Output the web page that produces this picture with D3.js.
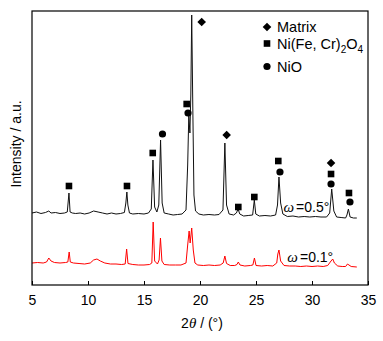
<!DOCTYPE html>
<html>
<head>
<meta charset="utf-8">
<script src="https://cdn.jsdelivr.net/npm/d3@7"></script>
<style>
  html, body { margin: 0; padding: 0; background: #fff; }
  svg text { font-family: Arial, "Liberation Sans", sans-serif; }
</style>
</head>
<body>
<svg id="chart" width="383" height="341"></svg>
<script>
// ---- data (2θ in degrees, intensity in arbitrary units) ----
const xTicks = [5, 10, 15, 20, 25, 30, 35];

const patternHigh = [ // ω = 0.5°
  [5.0,72],[5.4,73],[5.8,71.5],[6.2,72.5],[6.5,74],[6.7,72],[7.1,72.5],[7.5,71.5],[7.9,72],[8.15,73],
  [8.3,92],[8.4,73],[8.6,72],[8.9,71.5],[9.3,72],[9.7,71],[10.1,72],[10.5,74],[10.9,73],[11.3,72],
  [11.7,71],[12.1,72],[12.5,71],[12.9,71.5],[13.25,72.5],[13.38,82],[13.47,93],[13.56,80],[13.7,72],[14.0,71],
  [14.5,71.5],[15.0,71],[15.4,72],[15.65,76],[15.8,125],[15.95,78],[16.15,73],[16.32,80],[16.48,145],[16.62,82],
  [16.8,72],[17.2,71],[17.6,70],[18.0,70.5],[18.4,71],[18.75,75],[18.9,120],[19.0,170],[19.1,152],[19.18,190],
  [19.26,270],[19.36,175],[19.46,90],[19.6,74],[19.9,71],[20.3,70],[20.8,70.5],[21.3,70],[21.7,70.5],[22.05,75],
  [22.22,142],[22.37,80],[22.6,71],[23.0,70],[23.25,72],[23.4,76],[23.55,71],[23.9,69],[24.3,69.5],[24.7,70],
  [24.85,85],[24.98,71],[25.3,69],[25.8,69.5],[26.3,69],[26.75,70],[26.92,80],[27.05,108],[27.2,82],[27.4,71],
  [27.8,68.5],[28.3,69],[28.8,68],[29.3,68.5],[29.8,68],[30.3,68.5],[30.8,68],[31.3,68],[31.58,72],[31.76,96],
  [31.95,74],[32.2,68],[32.6,67.5],[33.0,67],[33.12,70],[33.25,76],[33.4,68],[33.7,67],[34.0,67]
];

const patternLow = [ // ω = 0.1°
  [5.0,22],[5.5,22.5],[6.0,22],[6.3,23],[6.5,27],[6.7,24],[7.0,22.5],[7.5,22],[8.0,22.5],[8.2,23],
  [8.32,33],[8.42,23],[8.7,22],[9.2,21.5],[9.7,21],[10.2,22],[10.5,25],[10.8,26],[11.1,24],[11.5,22],
  [12.0,21],[12.5,21],[13.0,20.5],[13.32,21],[13.45,36],[13.57,21.5],[14.0,20.5],[14.5,20],[15.0,20],[15.5,20.5],
  [15.7,22],[15.82,63],[15.95,24],[16.2,21],[16.35,25],[16.47,47],[16.6,24],[16.8,20.5],[17.3,20],[17.8,20],
  [18.3,20],[18.75,22],[18.9,40],[19.03,54],[19.12,42],[19.26,57],[19.4,35],[19.55,22],[19.8,20],[20.3,19.5],
  [20.8,20],[21.3,19.5],[21.8,20],[22.07,22],[22.22,29],[22.37,21.5],[22.7,19.5],[23.1,19.5],[23.3,20.5],[23.42,23],
  [23.57,20],[24.0,19],[24.5,19.5],[24.72,20],[24.86,27],[25.0,19.5],[25.5,19],[26.0,19.5],[26.5,19],[26.85,22],
  [26.95,31],[27.05,35],[27.2,24],[27.5,19.5],[28.0,19],[28.5,19],[29.0,18.5],[29.5,19],[30.0,18.5],[30.5,19],
  [31.0,18.5],[31.4,19.5],[31.7,24],[31.85,26],[32.0,22],[32.3,19],[32.7,18.5],[33.0,18.5],[33.17,21],[33.3,20],
  [33.5,18.5],[34.0,18]
];

// phase markers on the ω = 0.5° pattern: [type, 2θ, intensity]
const phaseMarks = [
  ["square", 8.30, 99], ["square", 13.48, 99], ["square", 15.78, 132], ["circle", 16.65, 151],
  ["square", 18.81, 181], ["circle", 18.93, 172], ["diamond", 20.15, 263], ["diamond", 22.38, 150],
  ["square", 23.42, 78], ["square", 24.85, 88], ["square", 26.99, 124], ["circle", 27.14, 113],
  ["diamond", 31.70, 122], ["square", 31.70, 111], ["circle", 31.70, 101],
  ["square", 33.30, 92], ["circle", 33.39, 83]
];

const legendItems = [
  { type: "diamond", label: "Matrix" },
  { type: "square", label: "Ni(Fe, Cr)", sub: ["2", "O", "4"] },
  { type: "circle", label: "NiO" }
];

const seriesLabels = [
  { text: "=0.5°", theta: 27.45, intensity: 73 },
  { text: "=0.1°", theta: 27.8, intensity: 23 }
];

// ---- layout ----
const svg = d3.select("#chart");
const L = 32, R = 368, T = 11, B = 285;

const x = d3.scaleLinear().domain([5, 35]).range([L, R]);
const y = d3.scaleLinear().domain([0, 274]).range([B, T]);

const line = d3.line().x(d => x(d[0])).y(d => y(d[1]));

svg.append("path").datum(patternLow)
  .attr("d", line).attr("fill", "none").attr("stroke", "#ff0000").attr("stroke-width", 1);
svg.append("path").datum(patternHigh)
  .attr("d", line).attr("fill", "none").attr("stroke", "#111").attr("stroke-width", 1);

// frame
svg.append("rect").attr("x", L).attr("y", T).attr("width", R - L).attr("height", B - T)
  .attr("fill", "none").attr("stroke", "#000").attr("stroke-width", 1.2);

// x axis with inward ticks
const xAxis = d3.axisBottom(x).tickValues(xTicks).tickSizeInner(-4).tickSizeOuter(0).tickPadding(10)
  .tickFormat(d3.format("d"));
const gx = svg.append("g").attr("transform", `translate(0,${B})`).call(xAxis);
gx.select(".domain").remove();
gx.selectAll("line").attr("stroke", "#000").attr("stroke-width", 1);
gx.selectAll("text").attr("font-size", 14).attr("fill", "#000")
  .attr("font-family", "Arial, 'Liberation Sans', sans-serif");

// marker drawing
function drawMarker(g, type, cx, cy) {
  if (type === "square") {
    g.append("rect").attr("x", cx - 3.3).attr("y", cy - 3.3).attr("width", 6.6).attr("height", 6.6).attr("fill", "#000");
  } else if (type === "circle") {
    g.append("circle").attr("cx", cx).attr("cy", cy).attr("r", 3.6).attr("fill", "#000");
  } else {
    const s = 4.3;
    g.append("path").attr("d", `M${cx},${cy - s}L${cx + s},${cy}L${cx},${cy + s}L${cx - s},${cy}Z`).attr("fill", "#000");
  }
}
const gm = svg.append("g");
phaseMarks.forEach(m => drawMarker(gm, m[0], x(m[1]), y(m[2])));

// legend
const lg = svg.append("g");
const legendY = [27, 43.5, 66.5];
legendItems.forEach((it, i) => {
  drawMarker(lg, it.type, 267, legendY[i]);
  const t = lg.append("text").attr("x", 277).attr("y", legendY[i] + 5).attr("font-size", 14.5).attr("fill", "#000");
  t.append("tspan").text(it.label);
  if (it.sub) {
    t.append("tspan").attr("font-size", 10).attr("dy", 4).text(it.sub[0]);
    t.append("tspan").attr("dy", -4).text(it.sub[1]);
    t.append("tspan").attr("font-size", 10).attr("dy", 4).text(it.sub[2]);
  }
});

// series labels
seriesLabels.forEach(s => {
  const t = svg.append("text").attr("x", x(s.theta)).attr("y", y(s.intensity)).attr("font-size", 14).attr("fill", "#000");
  t.append("tspan").attr("font-family", "'Liberation Serif', 'Times New Roman', serif").attr("font-style", "italic").attr("font-size", 15).text("ω");
  t.append("tspan").attr("dx", 2).text(s.text);
});

// axis titles
const xt = svg.append("text").attr("x", 202).attr("y", 328).attr("text-anchor", "middle").attr("font-size", 14).attr("fill", "#000");
xt.append("tspan").text("2");
xt.append("tspan").attr("font-family", "'Liberation Serif', 'Times New Roman', serif").attr("font-style", "italic").attr("font-size", 15).text("θ");
xt.append("tspan").text(" / (°)");

svg.append("text").attr("transform", "translate(21,144) rotate(-90)").attr("text-anchor", "middle")
  .attr("font-size", 14).attr("fill", "#000").text("Intensity / a.u.");
</script>
</body>
</html>
